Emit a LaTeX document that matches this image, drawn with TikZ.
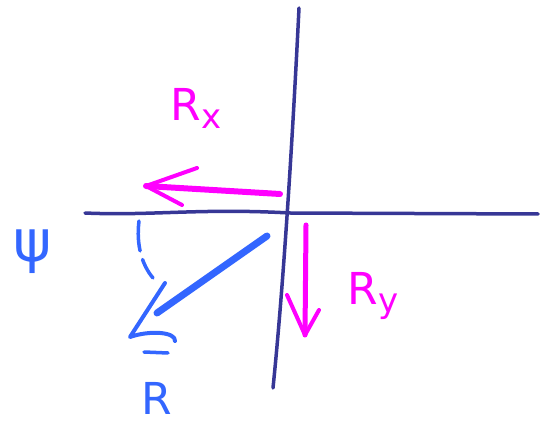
\documentclass[tikz,border=0pt]{standalone}
\usepackage{fontspec}
\setmainfont{DejaVu Sans}
\usetikzlibrary{arrows.meta}
\definecolor{axisblue}{RGB}{55,55,150}
\definecolor{penmag}{RGB}{255,0,255}
\definecolor{penblue}{RGB}{51,102,255}

\begin{document}
\begin{tikzpicture}[x=1pt, y=-1pt, line cap=round, line join=round,
    axisline/.style={draw=axisblue, line width=3.5pt},
    magpen/.style={draw=penmag, line width=4pt},
    bluepen/.style={draw=penblue, line width=4pt},
    every node/.style={inner sep=0pt}]
        \useasboundingbox (0,0) rectangle (540,427);

        % axes
        \coordinate (ytop) at (299,8);
        \coordinate (ybot) at (273,388);
        \coordinate (xleft) at (85,213);
        \coordinate (xright) at (538,214);
        \draw[axisline] (ytop) .. controls (292,150) and (283,290) .. (ybot);
        \draw[axisline] (xleft) .. controls (150,216) and (200,208) .. (290,213) -- (xright);

        % R_x
        \coordinate (rxs) at (280,194);
        \coordinate (rxe) at (146,186);
        \draw[magpen, line width=6pt] (rxs) -- (rxe);
        \draw[magpen] (197,168) -- (rxe) -- (182,205);
        \node[text=penmag, font=\fontsize{44}{48}\selectfont] (rx) at (196,108) {R\raisebox{-8pt}{\fontsize{34}{36}\selectfont x}};

        % R_y
        \coordinate (rys) at (306,225);
        \coordinate (rye) at (305,335);
        \draw[magpen, line width=5pt] (rys) -- (rye);
        \draw[magpen] (287,295) -- (rye) -- (319,310);
        \node[text=penmag, font=\fontsize{44}{48}\selectfont] (ry) at (373,296) {R\raisebox{-8pt}{\fontsize{34}{36}\selectfont y}};

        % R
        \coordinate (rs) at (267,236);
        \coordinate (re) at (130,337);
        \draw[bluepen, line width=7pt] (rs) -- (157,313);
        \draw[bluepen] (165,283) -- (re) .. controls (150,330) and (176,332) .. (175,341);
        \draw[bluepen, line width=3.5pt] (144,352) -- (168,353);
        \node[text=penblue, font=\fontsize{44}{48}\selectfont] (rlab) at (157,398) {R};

        % angle psi
        \coordinate (as) at (139,221);
        \coordinate (ae) at (153,278);
        \draw[bluepen, line width=3.5pt, dash pattern=on 30pt off 9pt] (as) .. controls (136,245) and (142,265) .. (ae);
        \node[text=penblue, font=\fontsize{58}{60}\selectfont] (psi) at (33,252) {ψ};
    \end{tikzpicture}
\end{document}
